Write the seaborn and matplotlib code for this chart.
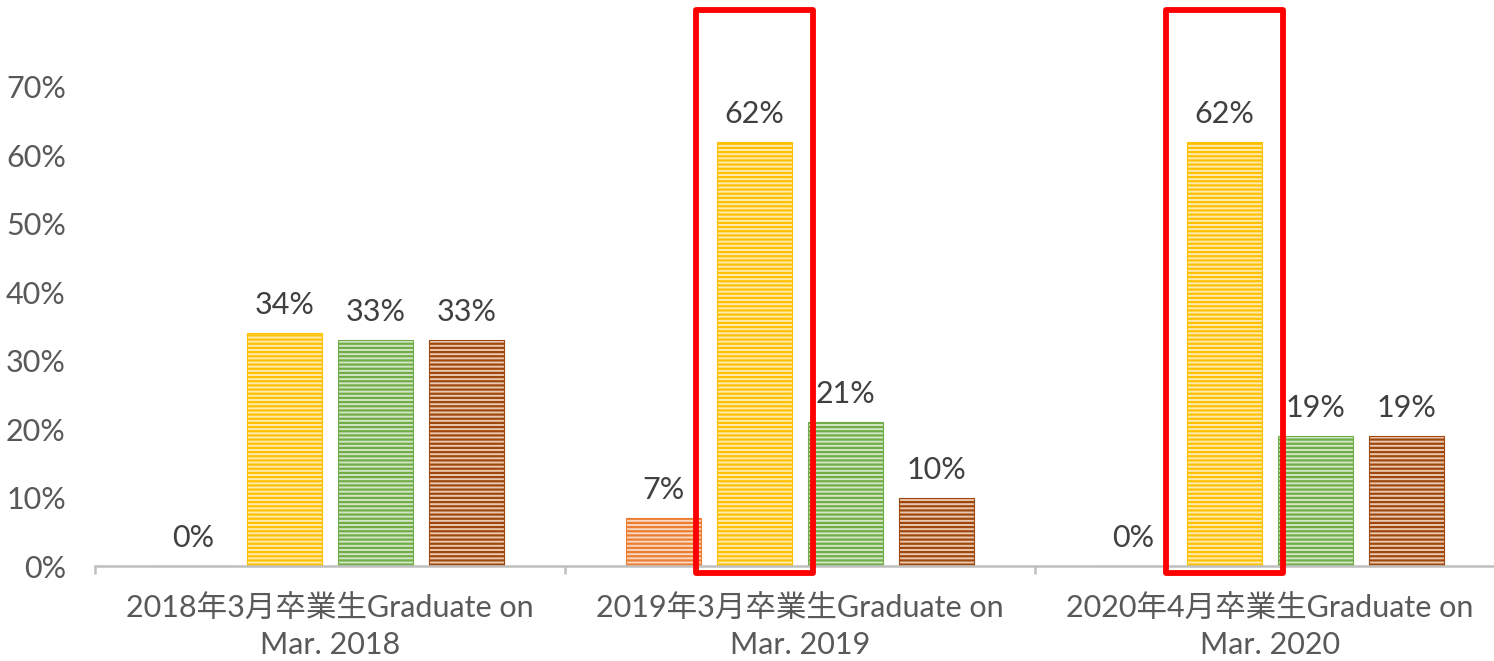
import matplotlib.pyplot as plt
import matplotlib.patches as mpatches
import pandas as pd
import seaborn as sns

categories = ['2018年3月卒業生Graduate on\nMar. 2018',
              '2019年3月卒業生Graduate on\nMar. 2019',
              '2020年4月卒業生Graduate on\nMar. 2020']
series = ['S1', 'S2', 'S3', 'S4']
values_s1 = [0.00, 0.07, 0.00]
values_s2 = [0.34, 0.62, 0.62]
values_s3 = [0.33, 0.21, 0.19]
values_s4 = [0.33, 0.10, 0.19]
y_ticks = [0.0, 0.1, 0.2, 0.3, 0.4, 0.5, 0.6, 0.7]

line_colors = ['#ED7D31', '#FFC000', '#70AD47', '#9E480E']
face_colors = ['#FAD7C0', '#FFEBB0', '#D3E6C6', '#EBC8B0']
highlight = [1, 2]  # groups whose yellow bar gets a red box

sns.set_theme(style='white')
plt.rcParams['font.family'] = ['Lato', 'Noto Sans CJK JP', 'DejaVu Sans']
plt.rcParams['hatch.linewidth'] = 1.6

df = pd.DataFrame({
    'group': categories * 4,
    'series': [s for s in series for _ in categories],
    'value': values_s1 + values_s2 + values_s3 + values_s4,
})

fig = plt.figure(figsize=(14.94, 6.61), dpi=100)
ax = fig.add_axes([95 / 1494, 95 / 661, 1410 / 1494, 479 / 661])

sns.barplot(data=df, x='group', y='value', hue='series', order=categories, hue_order=series,
            palette=line_colors, width=0.774, gap=0.17, legend=False, ax=ax)

for i, cont in enumerate(ax.containers):
    for bar in cont:
        bar.set_facecolor(face_colors[i])
        bar.set_edgecolor(line_colors[i])
        bar.set_hatch('----')
        bar.set_linewidth(0.8)
    ax.bar_label(cont, labels=[f'{v * 100:.0f}%' for v in cont.datavalues],
                 padding=10, fontsize=22, color='#404040')

# red boxes around highlighted bars
pad = 0.045
for g in highlight:
    bar = ax.containers[1][g]
    rect = mpatches.Rectangle((bar.get_x() - pad, -0.0105), bar.get_width() + 2 * pad, 0.823,
                              fill=False, edgecolor='#FF0000', linewidth=4.2,
                              joinstyle='round', clip_on=False, zorder=5)
    ax.add_patch(rect)

ax.set_xlim(-0.5, 2.5)
ax.set_ylim(0, 0.7)
ax.set_yticks(y_ticks)
ax.set_yticklabels([f'{t * 100:.0f}%' for t in y_ticks])
ax.set_xlabel('')
ax.set_ylabel('')

for side in ['top', 'right', 'left']:
    ax.spines[side].set_visible(False)
ax.spines['bottom'].set_color('#BFBFBF')
ax.spines['bottom'].set_linewidth(1.8)

ax.set_xticks([-0.5, 0.5, 1.5, 2.5], minor=True)
ax.tick_params(axis='x', which='major', length=0, pad=21, labelsize=22, labelcolor='#595959')
ax.tick_params(axis='x', which='minor', bottom=True, length=6, width=1.8, color='#BFBFBF')
ax.tick_params(axis='y', length=0, pad=21, labelsize=22, labelcolor='#595959')
plt.setp(ax.get_xticklabels(), linespacing=1.35)

fig.savefig('out.png', dpi=100)
